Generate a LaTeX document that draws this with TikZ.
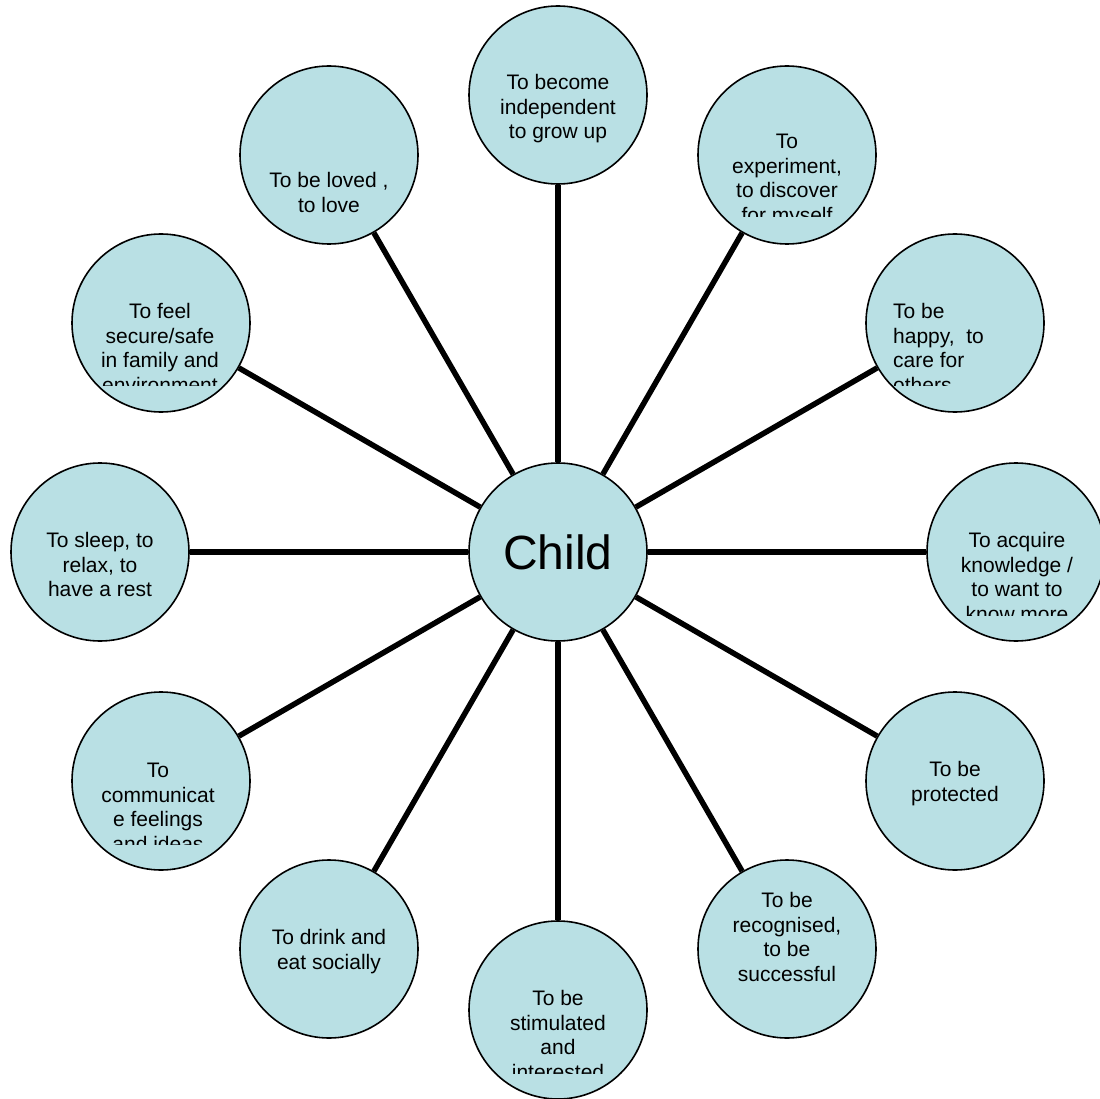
\documentclass[tikz,border=0pt]{standalone}
\usepackage{fontspec}
\setmainfont{Liberation Sans}
\usepackage{tikz}
\usetikzlibrary{backgrounds}
\definecolor{bubble}{RGB}{185,224,228}

\begin{document}
\begin{tikzpicture}
	 [x=1pt,y=-1pt,
	  need/.style={circle,draw=black,line width=1.6pt,fill=bubble,minimum size=178pt,inner sep=0pt},
	  words/.style={inner sep=0pt,align=center,anchor=north,font=\fontsize{21}{24.6}\selectfont},
	  link/.style={line width=5.5pt}]

	\useasboundingbox (0,0) rectangle (1100,1099);

	  \node[need,font=\fontsize{48}{58}\selectfont] (c) at (558,552) {Child};

	  \node[need] (n1) at (558,95) {};
	  \node[need] (n2) at (787,155) {};
	  \node[need] (n3) at (955,323) {};
	  \node[need] (n4) at (1016,552) {};
	  \node[need] (n5) at (955,781) {};
	  \node[need] (n6) at (787,949) {};
	  \node[need] (n7) at (558,1010) {};
	  \node[need] (n8) at (329,949) {};
	  \node[need] (n9) at (161,781) {};
	  \node[need] (n10) at (100,552) {};
	  \node[need] (n11) at (161,323) {};
	  \node[need] (n12) at (329,155) {};

	\begin{pgfonlayer}{background}
	\foreach \to in {n1,n2,n3,n4,n5,n6,n7,n8,n9,n10,n11,n12}
    \draw[link] (c) -- (\to);
	\end{pgfonlayer}

	  \node[words] (t1) at (558,74) {To become\\independent\\to grow up};
	\begin{scope}
	  \clip (690,60) rectangle (885,217);
	  \node[words] (t2) at (787,134) {To\\experiment,\\to discover\\for myself};
	\end{scope}
	\begin{scope}
	  \clip (866,235) rectangle (1044,385);
	  \node[words,anchor=north west,align=left] (t3) at (893,303) {To be\\happy,~ to\\care for\\others};
	\end{scope}
	\begin{scope}
	  \clip (927,464) rectangle (1100,615);
	  \node[words] (t4) at (1017,532) {To acquire\\knowledge /\\to want to\\know more};
	\end{scope}
	  \node[words] (t5) at (955,761) {To be\\protected};
	  \node[words] (t6) at (787,892) {To be\\recognised,\\to be\\successful};
	\begin{scope}
	  \clip (469,921) rectangle (647,1073);
	  \node[words] (t7) at (558,990) {To be\\stimulated\\and\\interested};
	\end{scope}
	  \node[words] (t8) at (329,929) {To drink and\\eat socially};
	\begin{scope}
	  \clip (72,692) rectangle (250,844);
	  \node[words] (t9) at (158,763) {To\\communicat\\e feelings\\and ideas};
	\end{scope}
	  \node[words] (t10) at (100,532) {To sleep, to\\relax, to\\have a rest};
	\begin{scope}
	  \clip (72,234) rectangle (250,385);
	  \node[words] (t11) at (160,303) {To feel\\secure/safe\\in family and\\environment};
	\end{scope}
	  \node[words] (t12) at (329,172) {To be loved ,\\to love};

\end{tikzpicture}
\end{document}
